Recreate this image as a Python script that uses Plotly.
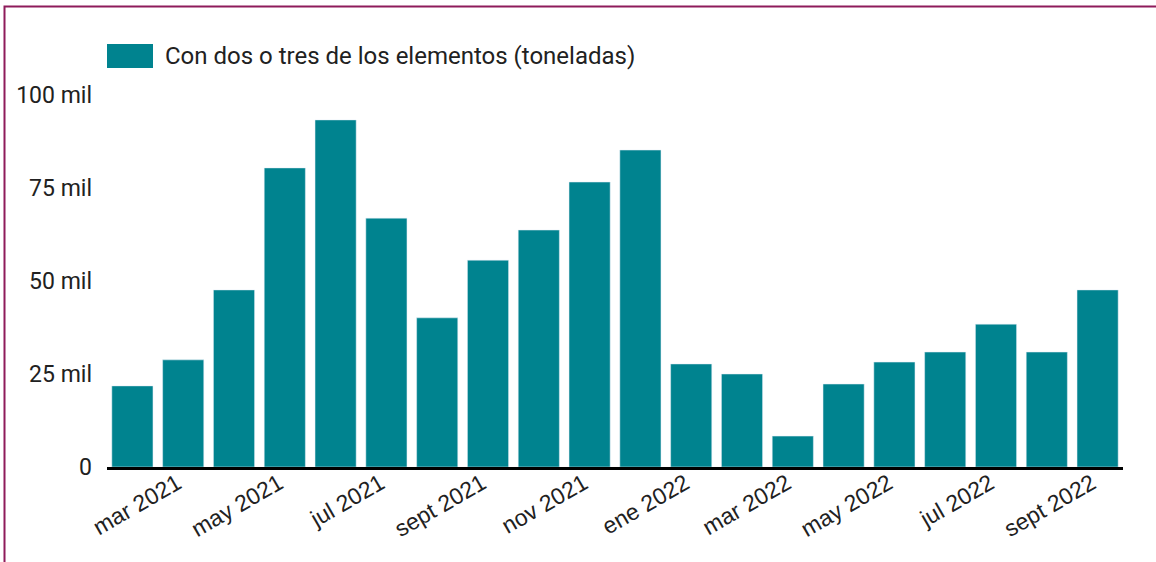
import plotly.graph_objects as go

# ---- data ----
months = ["mar 2021", "abr 2021", "may 2021", "jun 2021", "jul 2021", "ago 2021",
          "sept 2021", "oct 2021", "nov 2021", "dic 2021", "ene 2022", "feb 2022",
          "mar 2022", "abr 2022", "may 2022", "jun 2022", "jul 2022", "ago 2022",
          "sept 2022", "oct 2022"]
values = [21800, 28800, 47600, 80400, 93300, 66900, 40100, 55600, 63700, 76600,
          85200, 27700, 25000, 8300, 22300, 28200, 30900, 38400, 30900, 47600]
x_tick_labels = months[::2]
y_tick_vals = [0, 25000, 50000, 75000, 100000]
y_tick_text = ["0", "25 mil", "50 mil", "75 mil", "100 mil"]
series_name = "Con dos o tres de los elementos (toneladas)"

BAR = "#00838f"
BORDER = "#8e1b5b"
TXT = "#212121"

fig = go.Figure()
fig.add_trace(go.Bar(x=months, y=values, name=series_name, marker_color=BAR,
                     showlegend=False))

W, H = 1156, 562
L, R, T, B = 107, 33, 95, 95
pw, ph = W - L - R, H - T - B

def px(x):
    return (x - L) / pw

def py(y):
    return (H - B - y) / ph

fig.update_layout(
    width=W, height=H,
    margin=dict(l=L, r=R, t=T, b=B, pad=0),
    plot_bgcolor="white", paper_bgcolor="white",
    bargap=0.19,
    font=dict(family="Roboto", color=TXT, size=22),
    xaxis=dict(
        type="category",
        tickmode="array", tickvals=x_tick_labels, ticktext=x_tick_labels,
        tickangle=-30,
        tickfont=dict(family="Liberation Sans", size=23, color=TXT),
        ticklabelshift=45, ticklabelstandoff=-9,
        showgrid=False, showline=True, linecolor="black", linewidth=3,
        ticks="", zeroline=False,
    ),
    yaxis=dict(
        range=[0, 100000],
        tickmode="array", tickvals=y_tick_vals, ticktext=y_tick_text,
        tickfont=dict(family="Roboto", size=23, color=TXT),
        showgrid=False, zeroline=False, showline=False, ticks="",
        ticklabelstandoff=14,
    ),
    shapes=[
        dict(type="rect", xref="paper", yref="paper",
             x0=px(107), x1=px(153), y0=py(68), y1=py(44),
             fillcolor=BAR, line=dict(width=0)),
        dict(type="rect", xref="paper", yref="paper",
             x0=px(4.5), x1=px(W + 50), y0=py(H + 50), y1=py(6.5),
             line=dict(color=BORDER, width=2), fillcolor="rgba(0,0,0,0)"),
    ],
    annotations=[
        dict(text=series_name, xref="paper", yref="paper",
             x=px(163), y=py(56), xanchor="left", yanchor="middle",
             showarrow=False, font=dict(family="Roboto", size=24, color=TXT)),
    ],
)

fig.write_html("out.html",
               config={"displayModeBar": False},
               post_script="document.body.style.margin='0';document.body.style.overflow='hidden';")
